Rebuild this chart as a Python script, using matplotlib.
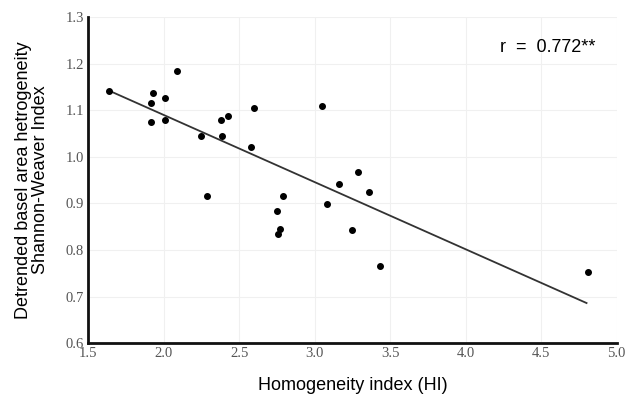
import matplotlib
matplotlib.use("Agg")
import matplotlib.pyplot as plt

# Homogeneity index vs detrended basal area heterogeneity
hi = [1.64, 1.93, 1.92, 1.92, 2.01, 2.01, 2.09, 2.25, 2.38, 2.43, 2.39,
      2.60, 2.58, 3.05, 2.29, 2.79, 2.75, 2.77, 2.76, 3.08, 3.16, 3.29,
      3.36, 3.25, 3.43, 4.81]
shannon = [1.141, 1.136, 1.116, 1.075, 1.127, 1.080, 1.184, 1.045, 1.079,
           1.088, 1.044, 1.105, 1.020, 1.110, 0.915, 0.915, 0.884, 0.845,
           0.834, 0.898, 0.942, 0.968, 0.925, 0.842, 0.766, 0.752]

# regression line end points as drawn
fit_x = [1.64, 4.80]
fit_y = [1.142, 0.686]

x_ticks = [1.5, 2.0, 2.5, 3.0, 3.5, 4.0, 4.5, 5.0]
y_ticks = [0.6, 0.7, 0.8, 0.9, 1.0, 1.1, 1.2, 1.3]

label_font = ["Liberation Sans", "DejaVu Sans"]
tick_font = ["Liberation Serif", "DejaVu Serif"]

fig = plt.figure(figsize=(6.25, 3.98), dpi=100)
ax = fig.add_axes([0.1408, 0.138, 0.846, 0.819])

ax.plot(fit_x, fit_y, color="#333333", lw=1.3, zorder=2)
ax.scatter(hi, shannon, s=16, color="black", zorder=3)

ax.set_xlim(1.5, 5.0)
ax.set_ylim(0.6, 1.3)
ax.set_xticks(x_ticks)
ax.set_yticks(y_ticks)
ax.set_xticklabels([f"{v:.1f}" for v in x_ticks], family=tick_font,
                   fontsize=10.5, color="#555555")
ax.set_yticklabels([f"{v:.1f}" for v in y_ticks], family=tick_font,
                   fontsize=10.5, color="#555555")
ax.tick_params(length=0, pad=3)
ax.grid(True, color="#f0f0f0", lw=0.8)
ax.set_axisbelow(True)

for side in ["top", "right"]:
    ax.spines[side].set_visible(False)
for side in ["left", "bottom"]:
    ax.spines[side].set_linewidth(2)
    ax.spines[side].set_color("#111111")

ax.set_xlabel("Homogeneity index (HI)", family=label_font, fontsize=13,
              labelpad=12)
ax.set_ylabel("Detrended basel area hetrogeneity\nShannon-Weaver Index",
              family=label_font, fontsize=13, labelpad=12, linespacing=1.0)

ax.text(4.54, 1.235, "r  =  0.772**", family=label_font, fontsize=13,
        ha="center", va="center")

fig.savefig("out.png", dpi=100)
